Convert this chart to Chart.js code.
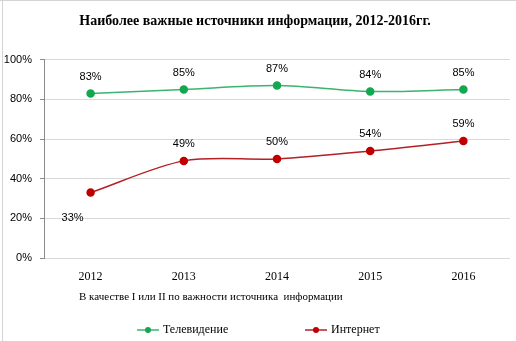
<!DOCTYPE html>
<html>
<head>
<meta charset="utf-8">
<script src="https://cdn.jsdelivr.net/npm/chart.js@4/dist/chart.umd.min.js"></script>
<style>
  html, body { margin: 0; padding: 0; background: #fff; }
  #wrap { width: 516px; height: 341px; position: relative; }
</style>
</head>
<body>
<div id="wrap"><canvas id="chart"></canvas></div>
<script>
const years = ["2012", "2013", "2014", "2015", "2016"];
const tvValues = [83, 85, 87, 84, 85];
const internetValues = [33, 49, 50, 54, 59];
const seriesNames = ["Телевидение", "Интернет"];
const titleText = "Наиболее важные источники информации, 2012-2016гг.";
const axisTitleText = "В качестве I или II по важности источника  информации";

const serif = "'Liberation Serif', 'DejaVu Serif', serif";
const sans = "'Liberation Sans', Arial, sans-serif";

// labels above each point, except the first internet one which sits below-left
const labelPlugin = {
  id: "pointLabels",
  afterDatasetsDraw(chart) {
    const ctx = chart.ctx;
    ctx.save();
    ctx.font = "11px " + sans;
    ctx.fillStyle = "#000";
    ctx.textAlign = "center";
    ctx.textBaseline = "middle";
    chart.data.datasets.forEach((ds, i) => {
      chart.getDatasetMeta(i).data.forEach((pt, j) => {
        let dx = 0, dy = -17;
        if (i === 1 && j === 0) { dx = -18; dy = 25; }
        ctx.fillText(ds.data[j] + "%", pt.x + dx, pt.y + dy);
      });
    });
    ctx.restore();
  },
};

const extrasPlugin = {
  id: "extras",
  beforeDraw(chart) {
    const ctx = chart.ctx;
    ctx.save();
    ctx.strokeStyle = "#d4d4d4";
    ctx.lineWidth = 1;
    ctx.beginPath();
    ctx.moveTo(2.5, 0);
    ctx.lineTo(2.5, 341);
    ctx.moveTo(0, 0.5);
    ctx.lineTo(516, 0.5);
    ctx.stroke();
    ctx.restore();
  },
  afterDraw(chart) {
    const ctx = chart.ctx;
    ctx.save();
    ctx.font = "11px " + serif;
    ctx.fillStyle = "#000";
    ctx.textBaseline = "middle";
    ctx.textAlign = "left";
    ctx.fillText(axisTitleText, 79, 297);

    // legend
    const items = [137, 305];
    chart.data.datasets.forEach((ds, i) => {
      const x = items[i];
      const y = 330;
      ctx.strokeStyle = ds.borderColor;
      ctx.lineWidth = 1.5;
      ctx.beginPath();
      ctx.moveTo(x, y);
      ctx.lineTo(x + 22, y);
      ctx.stroke();
      ctx.fillStyle = ds.pointBackgroundColor;
      ctx.beginPath();
      ctx.arc(x + 11, y, 3, 0, Math.PI * 2);
      ctx.fill();
      ctx.fillStyle = "#000";
      ctx.font = "12px " + serif;
      ctx.fillText(ds.label, x + 26, y);
    });
    ctx.restore();
  },
};

new Chart(document.getElementById("chart"), {
  type: "line",
  data: {
    labels: years,
    datasets: [
      {
        label: seriesNames[0],
        data: tvValues,
        borderColor: "#3cb371",
        pointBackgroundColor: "#12a84f",
        pointBorderColor: "#12a84f",
        borderWidth: 1.5,
        pointRadius: 3.5,
        tension: 0.3,
      },
      {
        label: seriesNames[1],
        data: internetValues,
        borderColor: "#b52025",
        pointBackgroundColor: "#c00000",
        pointBorderColor: "#c00000",
        borderWidth: 1.5,
        pointRadius: 3.5,
        tension: 0.3,
      },
    ],
  },
  options: {
    responsive: true,
    maintainAspectRatio: false,
    animation: false,
    layout: { padding: { left: 0, right: 6, top: 0, bottom: 0 } },
    plugins: {
      legend: { display: false },
      tooltip: { enabled: false },
      title: {
        display: true,
        text: titleText,
        color: "#000",
        font: { family: serif, size: 14, weight: "bold" },
        padding: { top: 13, bottom: 30 },
      },
    },
    scales: {
      x: {
        offset: true,
        grid: { display: false },
        border: { display: false },
        ticks: {
          color: "#000",
          font: { family: serif, size: 12 },
          padding: 4,
        },
        afterFit: (s) => { s.height = 83; },
      },
      y: {
        min: 0,
        max: 100,
        ticks: {
          stepSize: 20,
          color: "#000",
          font: { family: sans, size: 11 },
          padding: 8,
          callback: (v) => v + "%",
        },
        grid: { color: "#d9d9d9", tickColor: "#8c8c8c", tickLength: 4 },
        border: { color: "#8c8c8c" },
        afterFit: (s) => { s.width = 44; },
      },
    },
  },
  plugins: [labelPlugin, extrasPlugin],
});
</script>
</body>
</html>
